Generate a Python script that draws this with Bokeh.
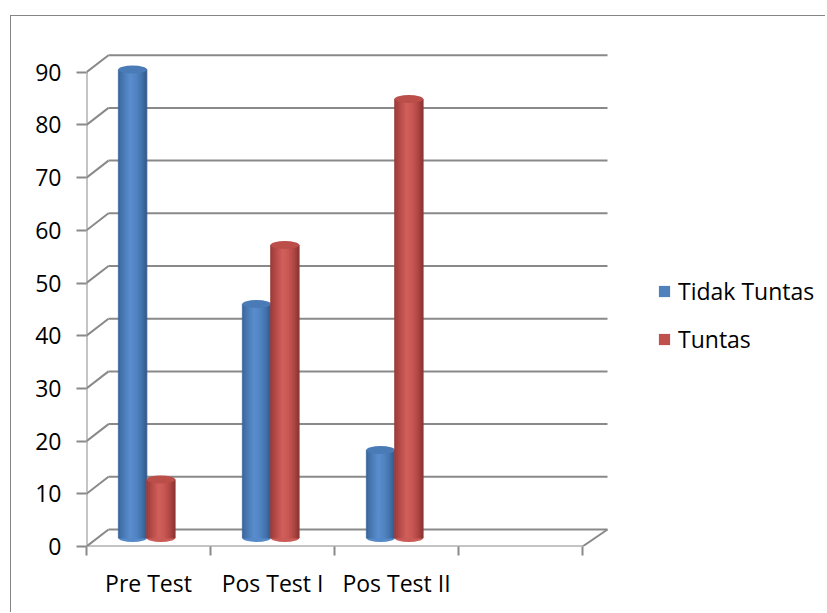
import numpy as np
from bokeh.plotting import figure
from bokeh.models import Range1d, FixedTicker, Legend, LegendItem
from bokeh.layouts import column
from bokeh.embed import file_html
from bokeh.resources import INLINE

# ---------------- data ----------------
categories = ["Pre Test", "Pos Test I", "Pos Test II"]
tidak_tuntas = [88.9, 44.4, 16.7]
tuntas = [11.1, 55.6, 83.3]
y_ticks = [0, 10, 20, 30, 40, 50, 60, 70, 80, 90]
series_names = ["Tidak Tuntas", "Tuntas"]

# ---------------- styling / geometry ----------------
FONT = "Open Sans"
FS = "23px"
GRID = "#898989"
W, H = 814, 596
ML, MB, MT, MR = 75, 66, 16, 4
PXX, PXY = 124.0, 5.27            # pixels per x unit / per y unit
x_end = (W - ML - MR) / PXX
y_end = (H - MB - MT) / PXY
DX, DY = 22 / PXX, 17 / PXY       # depth offset of back wall
DXR = 25 / PXX                    # depth offset at right floor edge
BASE = 8.5 / PXY                  # bars stand at mid depth
BAR_W = 0.23
OFF = [0.372, 0.60]
CAP_H = 8 / PXY
n_slots = len(categories) + 1

p = figure(width=W, height=H, x_range=Range1d(0, x_end), y_range=Range1d(0, y_end),
           output_backend="svg", toolbar_location=None,
           min_border_left=ML, min_border_right=MR, min_border_top=MT, min_border_bottom=MB,
           outline_line_color=None, border_fill_color="white", background_fill_color="white")
p.xgrid.visible = False
p.ygrid.visible = False

# y axis
ya = p.yaxis[0]
ya.ticker = FixedTicker(ticks=y_ticks, minor_ticks=[])
ya.axis_line_color = None
ya.major_tick_out = 10
ya.major_tick_in = 0
ya.major_tick_line_color = GRID
ya.major_tick_line_width = 2
ya.minor_tick_line_color = None
ya.major_label_text_font = FONT
ya.major_label_text_font_size = FS
ya.major_label_text_color = "black"
ya.major_label_standoff = 15

# x axis: labels at slot centres, tick marks at slot boundaries
xa = p.xaxis[0]
centres = [i + 0.5 for i in range(len(categories))]
xa.ticker = FixedTicker(ticks=centres, minor_ticks=list(range(n_slots + 1)))
xa.major_label_overrides = {c: lab for c, lab in zip(centres, categories)}
xa.axis_line_color = None
xa.major_tick_line_color = None
xa.major_tick_out = 0
xa.major_tick_in = 0
xa.minor_tick_line_color = GRID
xa.minor_tick_line_width = 2
xa.minor_tick_out = 9
xa.minor_tick_in = 0
xa.major_label_text_font = FONT
xa.major_label_text_font_size = FS
xa.major_label_text_color = "black"
xa.major_label_standoff = 11

# ---------------- 3D walls ----------------
yt = np.array(y_ticks, dtype=float)
p.segment(x0=[DX] * len(yt), y0=yt + DY, x1=[n_slots + DXR] * len(yt), y1=yt + DY,
          line_color=GRID, line_width=2)
p.segment(x0=[0] * len(yt), y0=yt, x1=[DX] * len(yt), y1=yt + DY,
          line_color=GRID, line_width=2)
p.segment(x0=[0, 0, n_slots], y0=[0, 0, 0], x1=[0, n_slots, n_slots + DXR],
          y1=[max(y_ticks), 0, DY], line_color=GRID, line_width=2)

# ---------------- cylinders ----------------
def interp_colors(stops, n):
    pos = np.array([s[0] for s in stops])
    rgb = np.array([[int(s[1][i:i + 2], 16) for i in (1, 3, 5)] for s in stops], dtype=float)
    out = []
    for t in (np.arange(n) + 0.5) / n:
        c = [np.interp(t, pos, rgb[:, k]) for k in range(3)]
        out.append("#%02x%02x%02x" % tuple(int(round(v)) for v in c))
    return out

blue_stops = [(0, "#3A6598"), (0.15, "#4675AE"), (0.42, "#5A8ECF"), (0.62, "#5486C6"),
              (0.85, "#4371A9"), (1, "#33598A")]
red_stops = [(0, "#963C3A"), (0.15, "#B04845"), (0.42, "#D1605C"), (0.62, "#CA5955"),
             (0.85, "#AE4643"), (1, "#873432")]
main_colors = ["#4F81BD", "#C0504D"]
top_colors = ["#4B7BB6", "#BC4E4A"]

NSTRIP = 15
legend_items = []
for s, (vals, stops) in enumerate([(tidak_tuntas, blue_stops), (tuntas, red_stops)]):
    xs = np.arange(len(categories)) + OFF[s]
    tops = np.array(vals) + BASE
    cols = interp_colors(stops, NSTRIP)
    p.ellipse(x=xs, y=[BASE] * len(xs), width=BAR_W, height=CAP_H,
              fill_color=cols[NSTRIP // 2 - 2], line_color=None)
    base_r = p.vbar(x=xs, width=BAR_W * 0.9, top=tops, bottom=BASE,
                    fill_color=main_colors[s], line_color=None)
    sw = BAR_W / NSTRIP
    for k in range(NSTRIP):
        p.vbar(x=xs - BAR_W / 2 + sw * (k + 0.5), width=sw, top=tops, bottom=BASE,
               fill_color=cols[k], line_color=cols[k], line_width=0.8)
    p.ellipse(x=xs, y=tops, width=BAR_W, height=CAP_H,
              fill_color=top_colors[s], line_color=None)
    legend_items.append(LegendItem(label=series_names[s], renderers=[base_r]))

legend = Legend(items=legend_items, location=(571, 191), padding=0, margin=0,
                border_line_color=None, background_fill_alpha=0,
                glyph_width=14, glyph_height=14, label_standoff=7, spacing=16,
                label_text_font=FONT, label_text_font_size=FS, label_text_color="black")
p.add_layout(legend, "center")

layout = column(p, margin=(15, 0, 0, 10),
                styles={"border-left": "1px solid #868686", "border-top": "1px solid #868686"})

open("out.html", "w").write(file_html(layout, INLINE))
